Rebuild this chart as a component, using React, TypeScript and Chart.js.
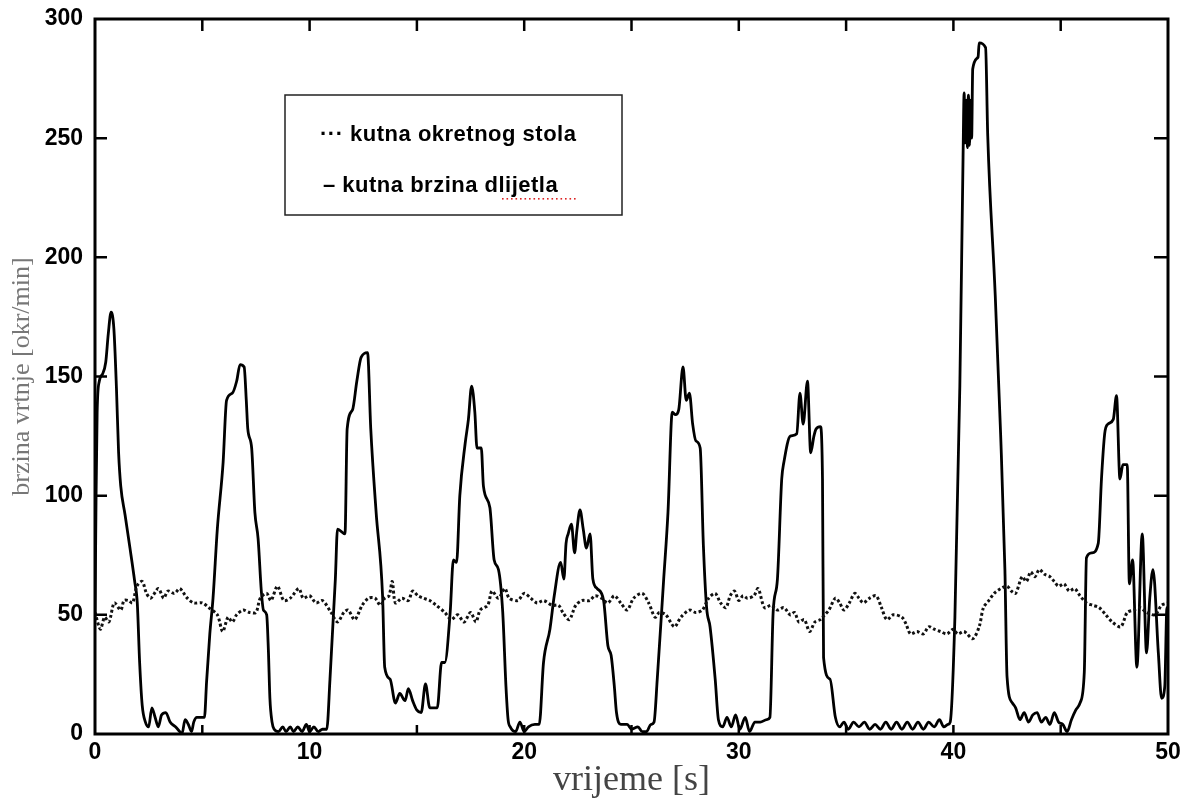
import React, { useEffect, useRef } from "react";
import { Chart, registerables } from "chart.js";

Chart.register(...registerables);

// ---- data ----
const bitTime = [
  0, 0.05, 0.1, 0.2, 0.35, 0.5, 0.62, 0.75, 0.88, 1.0, 1.1, 1.2, 1.4, 1.63, 1.85, 1.97, 2.08, 2.2, 2.35, 2.5,
  2.65, 2.8, 2.95, 3.1, 3.3, 3.5, 3.75, 3.95, 4.05, 4.2, 4.35, 4.5, 4.6, 4.75, 5.1, 5.2, 5.35, 5.5, 5.7, 5.97,
  6.13, 6.4, 6.6, 6.76, 6.95, 7.05, 7.12, 7.3, 7.45, 7.6, 7.75, 7.85, 8.0, 8.08, 8.15, 8.25, 8.35, 8.55, 8.75, 8.9,
  9.1, 9.25, 9.45, 9.65, 9.85, 10.0, 10.2, 10.4, 10.6, 10.8, 10.95, 11.2, 11.3, 11.65, 11.75, 12.0, 12.2, 12.4, 12.7, 12.85,
  13.1, 13.4, 13.5, 13.75, 14.0, 14.2, 14.45, 14.6, 14.8, 15.0, 15.2, 15.4, 15.6, 15.95, 16.15, 16.3, 16.55, 16.7, 16.85, 17.0,
  17.25, 17.4, 17.55, 17.7, 17.8, 18.0, 18.1, 18.4, 18.6, 18.8, 19.0, 19.15, 19.25, 19.35, 19.6, 19.8, 20.0, 20.2, 20.5, 20.7,
  20.9, 21.2, 21.4, 21.7, 21.85, 21.95, 22.05, 22.2, 22.35, 22.45, 22.6, 22.75, 22.9, 23.07, 23.2, 23.4, 23.7, 23.9, 24.05, 24.2,
  24.3, 24.5, 24.8, 25.0, 25.3, 25.5, 25.7, 25.9, 26.05, 26.2, 26.5, 26.7, 26.9, 27.05, 27.2, 27.4, 27.55, 27.7, 27.85, 28.0,
  28.2, 28.35, 28.5, 28.66, 28.9, 29.05, 29.25, 29.45, 29.65, 29.85, 30.05, 30.3, 30.5, 30.75, 31.0, 31.3, 31.45, 31.6, 31.8, 32.0,
  32.1, 32.4, 32.7, 32.85, 33.0, 33.2, 33.35, 33.5, 33.6, 33.8, 33.9, 33.95, 34.25, 34.5, 34.7, 34.9, 35.1, 35.35, 35.6, 35.85,
  36.1, 36.35, 36.6, 36.85, 37.1, 37.35, 37.6, 37.85, 38.1, 38.35, 38.6, 38.85, 39.1, 39.35, 39.55, 39.75, 39.85, 40.07, 40.3, 40.45,
  40.5, 40.55, 40.6, 40.65, 40.7, 40.75, 40.8, 40.85, 40.9, 41.15, 41.2, 41.5, 41.6, 41.95, 42.2, 42.4, 42.5, 42.75, 42.9, 43.1,
  43.3, 43.5, 43.7, 43.9, 44.1, 44.3, 44.5, 44.7, 44.9, 45.1, 45.3, 45.5, 45.7, 45.9, 46.1, 46.2, 46.45, 46.75, 46.9, 47.05,
  47.2, 47.45, 47.6, 47.76, 47.9, 48.1, 48.2, 48.35, 48.55, 48.8, 49.0, 49.15, 49.3, 49.55, 49.7, 49.85, 49.95, 50,
];
const bitSpeed = [
  48, 100, 135, 148, 151, 156, 168, 177, 170, 145, 118, 104, 92, 78, 64, 55, 30, 12, 5, 3,
  11, 7, 3, 8, 9, 5, 3, 1, 0, 6, 4, 1, 5, 7, 7, 22, 42, 57, 86, 114,
  140, 143, 148, 155, 154, 140, 128, 120, 93, 82, 60, 52, 50, 35, 15, 5, 2, 1, 3, 1,
  3, 1, 3, 1, 4, 1, 3, 1, 2, 2, 23, 65, 86, 84, 128, 136, 148, 158, 160, 128,
  93, 58, 28, 23, 13, 17, 14, 19, 14, 10, 9, 21, 11, 11, 30, 30, 51, 73, 72, 100,
  122, 132, 146, 135, 120, 120, 104, 95, 73, 69, 51, 20, 6, 3, 1, 5, 1, 3, 4, 4,
  30, 44, 58, 72, 65, 80, 84, 88, 76, 85, 94, 86, 78, 84, 65, 61, 56, 37, 33, 20,
  9, 4, 4, 2, 3, 1, 1, 4, 5, 23, 65, 93, 135, 134, 136, 154, 140, 143, 130, 123,
  120, 79, 53, 45, 23, 6, 3, 7, 3, 8, 2, 7, 1, 5, 5, 6, 7, 51, 65, 107,
  114, 125, 126, 143, 130, 148, 118, 125, 128, 129, 107, 32, 23, 7, 3, 5, 2, 5, 3, 5,
  2, 4, 2, 5, 2, 5, 2, 5, 2, 5, 2, 5, 3, 6, 3, 4, 5, 49, 146, 242,
  269, 248, 266, 246, 268, 247, 266, 250, 279, 284, 290, 288, 251, 184, 126, 69, 24, 13, 11, 6,
  9, 5, 8, 9, 5, 7, 4, 9, 5, 4, 1, 6, 10, 13, 26, 74, 76, 80, 107, 126,
  130, 132, 142, 107, 113, 113, 63, 73, 28, 84, 34, 57, 69, 34, 15, 20, 53, 52,
];

const tableTime = [
  0, 0.25, 0.45, 0.65, 0.9, 1.2, 1.35, 1.55, 1.75, 1.95, 2.2, 2.4, 2.6, 2.95, 3.2, 3.4, 3.7, 3.95, 4.3, 4.6,
  5.0, 5.3, 5.7, 5.95, 6.2, 6.4, 6.6, 6.9, 7.2, 7.5, 7.7, 8.0, 8.2, 8.5, 8.8, 9.1, 9.5, 9.7, 10.0, 10.3,
  10.6, 11.0, 11.3, 11.6, 11.8, 12.1, 12.45, 12.75, 13.05, 13.3, 13.5, 13.7, 13.85, 14.0, 14.3, 14.6, 14.8, 15.05, 15.3, 15.6,
  15.9, 16.3, 16.6, 16.9, 17.2, 17.5, 17.75, 17.95, 18.3, 18.5, 18.8, 19.1, 19.3, 19.7, 20.0, 20.3, 20.6, 20.9, 21.3, 21.6,
  21.8, 22.1, 22.4, 22.7, 23.05, 23.3, 23.6, 23.9, 24.2, 24.5, 24.8, 25.1, 25.5, 25.8, 26.1, 26.3, 26.6, 27.0, 27.3, 27.7,
  28.0, 28.3, 28.6, 28.9, 29.15, 29.4, 29.6, 29.8, 30.0, 30.2, 30.4, 30.7, 30.9, 31.2, 31.5, 31.8, 32.1, 32.4, 32.6, 32.8,
  33.05, 33.3, 33.55, 33.8, 34.0, 34.2, 34.5, 34.7, 34.9, 35.15, 35.4, 35.6, 35.8, 36.1, 36.4, 36.65, 36.9, 37.2, 37.6, 37.8,
  38.0, 38.3, 38.6, 38.85, 39.1, 39.4, 39.7, 40.0, 40.2, 40.5, 40.9, 41.2, 41.4, 41.65, 41.9, 42.2, 42.5, 42.7, 42.9, 43.2,
  43.4, 43.6, 43.8, 44.0, 44.25, 44.5, 44.7, 44.9, 45.15, 45.4, 45.65, 45.9, 46.2, 46.5, 46.8, 47.1, 47.4, 47.8, 48.1, 48.4,
  48.7, 49.0, 49.4, 49.7, 50,
];
const tableSpeed = [
  51, 44, 49, 47, 55, 52, 56, 56, 55, 62, 64, 59, 57, 61, 57, 60, 59, 61, 57, 55,
  55, 53, 50, 43, 49, 47, 50, 52, 51, 51, 57, 59, 56, 62, 56, 57, 61, 57, 58, 55,
  56, 51, 47, 51, 52, 48, 54, 57, 57, 54, 57, 58, 64, 55, 57, 56, 60, 58, 57, 56,
  54, 51, 48, 50, 47, 51, 47, 52, 54, 60, 57, 61, 57, 56, 59, 57, 55, 56, 54, 54,
  51, 48, 54, 56, 56, 58, 57, 55, 58, 55, 52, 57, 59, 55, 49, 51, 50, 45, 49, 52,
  51, 52, 57, 59, 55, 53, 58, 60, 56, 58, 57, 58, 61, 53, 54, 52, 53, 50, 51, 47,
  48, 43, 47, 48, 50, 52, 57, 55, 52, 55, 59, 57, 55, 57, 58, 53, 48, 50, 49, 46,
  42, 43, 42, 45, 44, 43, 42, 44, 42, 43, 40, 45, 53, 56, 59, 61, 62, 60, 59, 66,
  64, 68, 66, 69, 67, 66, 64, 62, 63, 60, 61, 58, 55, 54, 53, 50, 47, 45, 51, 52,
  53, 51, 50, 54, 55,
];

const xTickValues = [0, 10, 20, 30, 40, 50];
const yTickValues = [0, 50, 100, 150, 200, 250, 300];
const legendLabels = ["\u00b7\u00b7\u00b7 kutna okretnog stola", "\u2013 kutna brzina dlijetla"];
const xTitle = "vrijeme [s]";
const yTitle = "brzina vrtnje [okr/min]";

export default function App() {
  const ref = useRef<HTMLCanvasElement | null>(null);

  useEffect(() => {
    document.body.style.margin = "0";
    const canvas = ref.current;
    if (!canvas) return;

    const framePlugin = {
      id: "framePlugin",
      afterDatasetsDraw(chart: any) {
        const { ctx, chartArea, scales } = chart;
        const { left, right, top, bottom } = chartArea;
        const xs = scales.x;
        const ys = scales.y;
        ctx.save();
        ctx.strokeStyle = "#000";
        ctx.lineWidth = 3;
        ctx.strokeRect(left, top, right - left, bottom - top);
        ctx.lineWidth = 2.5;
        ctx.beginPath();
        for (let v = xs.min + 5; v < xs.max; v += 5) {
          const px = xs.getPixelForValue(v);
          ctx.moveTo(px, top);
          ctx.lineTo(px, top + 12);
          ctx.moveTo(px, bottom);
          ctx.lineTo(px, bottom - 9);
        }
        for (let v = ys.min + 50; v < ys.max; v += 50) {
          const py = ys.getPixelForValue(v);
          ctx.moveTo(left, py);
          ctx.lineTo(left + 12, py);
          ctx.moveTo(right, py);
          ctx.lineTo(right - 14, py);
        }
        ctx.stroke();
        ctx.restore();
      },
      afterDraw(chart: any) {
        const { ctx } = chart;
        ctx.save();
        // legend box
        ctx.fillStyle = "#fff";
        ctx.fillRect(285, 95, 337, 120);
        ctx.strokeStyle = "#222";
        ctx.lineWidth = 1.5;
        ctx.strokeRect(285, 95, 337, 120);
        ctx.fillStyle = "#000";
        ctx.font = "bold 22px 'Liberation Sans', Arial, sans-serif";
        ctx.textBaseline = "middle";
        ctx.textAlign = "left";
        try { (ctx as any).letterSpacing = "0.5px"; } catch (e) {}
        ctx.fillText(legendLabels[0], 320, 135);
        ctx.fillText(legendLabels[1], 323, 186);
        // spell-check squiggle under the last word
        ctx.fillStyle = "#d22";
        for (let sx = 502; sx <= 576; sx += 4.5) {
          ctx.fillRect(sx, 198, 1.6, 1.6);
        }
        ctx.restore();
      },
    };

    const chart = new Chart(canvas, {
      type: "line",
      data: {
        datasets: [
          {
            label: legendLabels[0],
            data: tableTime.map((t, i) => ({ x: t, y: tableSpeed[i] })),
            borderColor: "#111",
            borderWidth: 3,
            borderDash: [2.8, 2.4],
            pointRadius: 0,
            tension: 0.3,
            fill: false,
          },
          {
            label: legendLabels[1],
            data: bitTime.map((t, i) => ({ x: t, y: bitSpeed[i] })),
            borderColor: "#000",
            borderWidth: 2.8,
            pointRadius: 0,
            cubicInterpolationMode: "monotone",
            fill: false,
          },
        ],
      },
      options: {
        animation: false,
        responsive: true,
        maintainAspectRatio: false,
        devicePixelRatio: 1,
        layout: { padding: { top: 19, right: 21, left: 0, bottom: 0 } },
        plugins: { legend: { display: false }, tooltip: { enabled: false } },
        scales: {
          x: {
            type: "linear",
            min: 0,
            max: 50,
            afterFit: (s: any) => { s.height = 67; s.paddingLeft = 0; s.paddingRight = 0; },
            afterBuildTicks: (s: any) => { s.ticks = xTickValues.map((v) => ({ value: v })); },
            grid: { display: false, drawTicks: false },
            border: { display: false },
            ticks: {
              color: "#000",
              padding: 5,
              font: { family: "'Liberation Sans', Arial, sans-serif", weight: "bold", size: 23 },
              maxRotation: 0,
            },
            title: {
              display: true,
              text: xTitle,
              color: "#444",
              padding: { top: 0, bottom: 2 },
              font: { family: "'Liberation Serif', 'Times New Roman', serif", size: 36, lineHeight: 1 },
            },
          },
          y: {
            type: "linear",
            min: 0,
            max: 300,
            afterFit: (s: any) => { s.width = 95; s.paddingTop = 0; s.paddingBottom = 0; },
            afterBuildTicks: (s: any) => { s.ticks = yTickValues.map((v) => ({ value: v })); },
            grid: { display: false, drawTicks: false },
            border: { display: false },
            ticks: {
              color: "#000",
              padding: 12,
              font: { family: "'Liberation Sans', Arial, sans-serif", weight: "bold", size: 23 },
            },
            title: {
              display: true,
              text: yTitle,
              color: "#777",
              padding: { top: 9, bottom: 0 },
              font: { family: "'Liberation Serif', 'Times New Roman', serif", size: 26, lineHeight: 1 },
            },
          },
        },
      },
      plugins: [framePlugin],
    } as any);

    return () => chart.destroy();
  }, []);

  return (
    <div style={{ position: "absolute", left: 0, top: 0, width: 1189, height: 801, background: "#fff" }}>
      <canvas ref={ref} />
    </div>
  );
}
